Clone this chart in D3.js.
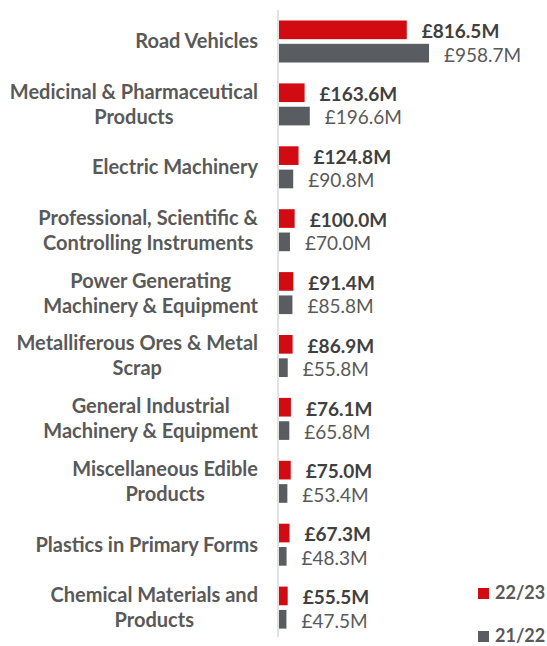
<!DOCTYPE html>
<html>
<head>
<meta charset="utf-8">
<script src="https://cdn.jsdelivr.net/npm/d3@7"></script>
<style>
body { margin: 0; background: #fff; }
text { font-family: Lato, "Open Sans", sans-serif; }
</style>
</head>
<body>
<script>
// categories (top to bottom), "\n" marks the line break in the label
var categories = [
	"Road Vehicles",
	"Medicinal & Pharmaceutical\nProducts",
	"Electric Machinery",
	"Professional, Scientific &\nControlling Instruments",
	"Power Generating\nMachinery & Equipment",
	"Metalliferous Ores & Metal\nScrap",
	"General Industrial\nMachinery & Equipment",
	"Miscellaneous Edible\nProducts",
	"Plastics in Primary Forms",
	"Chemical Materials and\nProducts"
];
var series = ["22/23", "21/22"];
var values2223 = [816.5, 163.6, 124.8, 100.0, 91.4, 86.9, 76.1, 75.0, 67.3, 55.5];
var values2122 = [958.7, 196.6, 90.8, 70.0, 85.8, 55.8, 65.8, 53.4, 48.3, 47.5];

var width = 547;
var height = 646;
var colors = { "22/23": "#d20a11", "21/22": "#595c61" };

var rows = categories.map(function(c, i){
	return { cat: c, vals: [ { s: "22/23", v: values2223[i] }, { s: "21/22", v: values2122[i] } ] };
});

var svg = d3.select("body").append("svg").attr("width", width).attr("height", height);

var x0 = 279;
var x = d3.scaleLinear().domain([0, 1000]).range([x0, x0 + 156.5]);
var y = d3.scaleBand().domain(categories).range([10.5, 639.5]);
var ySub = d3.scaleBand().domain(series).range([10, 52]).paddingInner(0.2);

// axis line
svg.append("line")
	.attr("x1", x0 - 1).attr("x2", x0 - 1)
	.attr("y1", 10).attr("y2", 637)
	.attr("stroke", "#d9d9d9").attr("stroke-width", 1.5);

var groups = svg.selectAll("g.row")
	.data(rows)
	.enter().append("g")
		.attr("class", "row")
		.attr("transform", function(d){ return "translate(0," + y(d.cat) + ")"; });

groups.selectAll("rect")
	.data(function(d){ return d.vals; })
	.enter().append("rect")
		.attr("x", x(0))
		.attr("y", function(d){ return ySub(d.s); })
		.attr("width", function(d){ return x(d.v) - x(0); })
		.attr("height", ySub.bandwidth())
		.attr("fill", function(d){ return colors[d.s]; });

groups.selectAll("text.val")
	.data(function(d){ return d.vals; })
	.enter().append("text")
		.attr("class", "val")
		.attr("x", function(d){ return x(d.v) + 15; })
		.attr("y", function(d){ return ySub(d.s) + ySub.bandwidth() - 1; })
		.attr("font-size", 19)
		.attr("font-weight", function(d){ return d.s == "22/23" ? "bold" : "normal"; })
		.attr("fill", function(d){ return d.s == "22/23" ? "#404040" : "#595959"; })
		.text(function(d){ return "£" + d.v.toFixed(1) + "M"; });

// category labels: block right aligned, lines centred inside the block
var labelRight = 258;
groups.each(function(d){
	var g = d3.select(this);
	var lines = d.cat.split("\n");
	var mid = y.bandwidth() / 2;
	var t = g.selectAll("text.cat")
		.data(lines)
		.enter().append("text")
			.attr("class", "cat")
			.attr("font-size", 20)
			.attr("font-weight", "bold")
			.attr("fill", "#595959")
			.attr("text-anchor", "middle")
			.attr("y", function(l, i){ return mid + 6.5 - (lines.length - 1) * 12.5 + i * 25; })
			.text(function(l){ return l; });
	var maxW = 0;
	t.each(function(){ maxW = Math.max(maxW, this.getComputedTextLength()); });
	t.attr("x", labelRight - maxW / 2);
});

// legend
var legend = svg.selectAll("g.legend")
	.data(series)
	.enter().append("g")
		.attr("class", "legend")
		.attr("transform", function(d, i){ return "translate(478," + (588 + i * 43) + ")"; });

legend.append("rect")
	.attr("width", 11).attr("height", 11)
	.attr("fill", function(d){ return colors[d]; });

legend.append("text")
	.attr("x", 17).attr("y", 11)
	.attr("font-size", 18)
	.attr("font-weight", "bold")
	.attr("fill", "#595959")
	.text(function(d){ return d; });
</script>
</body>
</html>
